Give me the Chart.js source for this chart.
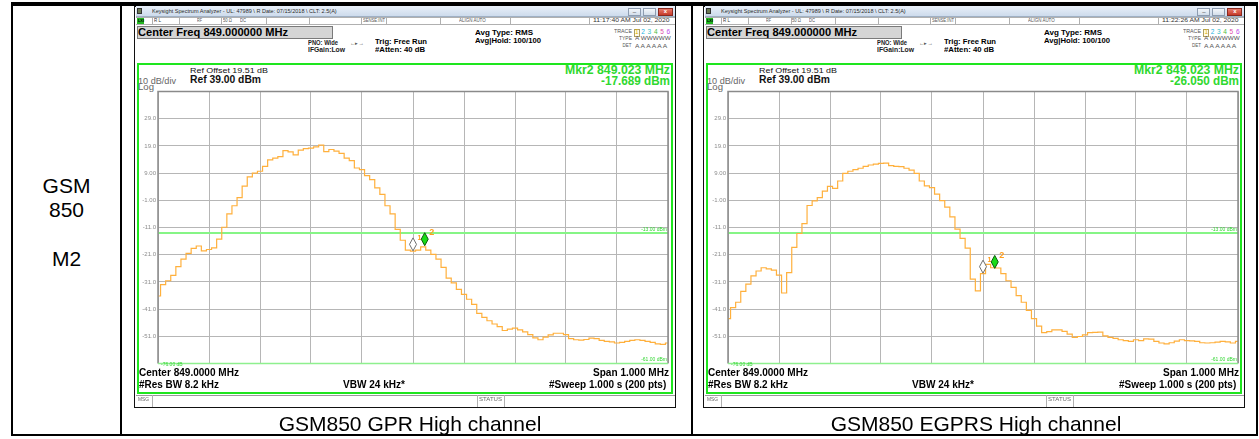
<!DOCTYPE html>
<html>
<head>
<meta charset="utf-8">
<script src="https://cdn.jsdelivr.net/npm/chart.js@4.4.1/dist/chart.umd.min.js"></script>
<style>
  body { margin: 0; width: 1259px; height: 439px; overflow: hidden; position: relative; background: #fff;
         font-family: "Liberation Sans", Arial, sans-serif; }
  .r { position: absolute; box-sizing: border-box; }
  .t { position: absolute; white-space: nowrap; transform-origin: 0 50%; }
  canvas { position: absolute; }
</style>
</head>
<body>
<script>
// sweep points (MHz), 848.5 .. 849.5
const freqMHz = [
  848.50, 848.51, 848.52, 848.53, 848.54, 848.55, 848.56, 848.57, 848.58, 848.59,
  848.60, 848.61, 848.62, 848.63, 848.64, 848.65, 848.66, 848.67, 848.68, 848.69,
  848.70, 848.71, 848.72, 848.73, 848.74, 848.75, 848.76, 848.77, 848.78, 848.79,
  848.80, 848.81, 848.82, 848.83, 848.84, 848.85, 848.86, 848.87, 848.88, 848.89,
  848.90, 848.91, 848.92, 848.93, 848.94, 848.95, 848.96, 848.97, 848.98, 848.99,
  849.00, 849.01, 849.02, 849.03, 849.04, 849.05, 849.06, 849.07, 849.08, 849.09,
  849.10, 849.11, 849.12, 849.13, 849.14, 849.15, 849.16, 849.17, 849.18, 849.19,
  849.20, 849.21, 849.22, 849.23, 849.24, 849.25, 849.26, 849.27, 849.28, 849.29,
  849.30, 849.31, 849.32, 849.33, 849.34, 849.35, 849.36, 849.37, 849.38, 849.39,
  849.40, 849.41, 849.42, 849.43, 849.44, 849.45, 849.46, 849.47, 849.48, 849.49,
  849.50
];

// trace levels (dBm), GPRS high channel
const gprsTrace = [
  -36.2, -32.0, -30.6, -28.6, -25.4, -22.6, -20.5, -18.7, -17.8, -19.6,
  -19.1, -18.5, -15.3, -10.9, -6.0, -3.0, 0.0, 4.2, 7.6, 9.0,
  9.7, 11.5, 13.9, 14.5, 15.1, 17.3, 16.8, 15.7, 17.5, 18.0,
  18.2, 18.7, 19.3, 16.9, 17.7, 17.1, 16.3, 14.5, 13.6, 10.9,
  10.3, 8.1, 6.6, 3.6, 1.2, -3.0, -6.0, -11.7, -15.7, -19.3,
  -19.7, -19.3, -18.1, -19.3, -20.9, -22.6, -25.7, -29.6, -31.4, -33.8,
  -35.6, -37.4, -39.3, -42.6, -44.1, -45.3, -46.5, -47.5, -48.9, -48.4,
  -48.0, -48.7, -49.4, -50.4, -51.6, -52.3, -51.3, -50.5, -49.9, -49.9,
  -50.4, -51.9, -52.3, -52.4, -52.2, -51.7, -51.9, -52.5, -52.9, -53.1,
  -53.5, -53.3, -52.9, -52.5, -52.3, -52.5, -52.9, -53.3, -53.8, -54.0,
  -53.5
];

// trace levels (dBm), EGPRS high channel
const egprsTrace = [
  -44.5, -40.5, -38.5, -34.5, -31.8, -28.8, -27.0, -25.8, -26.2, -26.7,
  -28.5, -35.1, -27.6, -18.3, -13.2, -9.6, -2.9, -1.2, 0.0, 2.4,
  4.1, 3.4, 6.1, 8.9, 9.7, 10.3, 10.8, 11.5, 12.0, 12.3,
  12.6, 12.7, 11.8, 11.5, 11.4, 10.8, 10.1, 8.9, 6.1, 4.3,
  3.7, 1.3, -1.1, -3.5, -7.1, -11.6, -15.0, -18.6, -30.0, -34.3,
  -28.0, -24.6, -25.8, -25.9, -28.0, -30.6, -33.0, -36.1, -38.5, -41.5,
  -44.5, -47.3, -49.7, -49.3, -48.7, -48.7, -49.2, -50.2, -51.4, -51.1,
  -50.5, -49.7, -49.6, -49.5, -50.9, -51.4, -51.8, -52.3, -52.6, -52.9,
  -52.3, -52.6, -52.0, -52.1, -52.9, -53.5, -53.8, -53.4, -52.8, -52.3,
  -52.6, -52.7, -52.9, -53.4, -53.5, -53.4, -53.2, -52.9, -53.1, -53.5,
  -52.9
];

// markers 1 and 2
const markerFreqs = [849.000, 849.023];
const gprsMarkerLevels = [-19.6, -17.689];
const egprsMarkerLevels = [-27.8, -26.050];

const displayLineDbm = -13;
const xTicks = [848.5, 848.6, 848.7, 848.8, 848.9, 849.0, 849.1, 849.2, 849.3, 849.4, 849.5];
const yTicks = [39, 29, 19, 9, -1, -11, -21, -31, -41, -51, -61];
const yTickLabels = ["", "29.0", "19.0", "9.00", "-1.00", "-11.0", "-21.0", "-31.0", "-41.0", "-51.0", ""];

const FONT = '"Liberation Sans", Arial, sans-serif';
Chart.defaults.font.family = FONT;

const PLOT_TOP = 89, PLOT_H = 277, PLOT_W = 510, AXIS_W = 24, PAD = 3;

// ---- little DOM helpers ----
const mctx = document.createElement("canvas").getContext("2d");

function rect(x, y, w, h, css) {
  const d = document.createElement("div");
  d.className = "r";
  d.style.cssText += `left:${x}px;top:${y}px;width:${w}px;height:${h}px;` + (css || "");
  document.body.appendChild(d);
  return d;
}

function txt(s, x, y, o) {
  o = o || {};
  const size = o.size || 7;
  const font = (o.bold ? "bold " : "") + size + "px " + FONT;
  const el = document.createElement("div");
  el.className = "t";
  el.textContent = s;
  el.style.font = font;
  el.style.lineHeight = size + "px";
  el.style.color = o.color || "#000";
  mctx.font = font;
  const w = mctx.measureText(s).width;
  const sx = o.w ? o.w / w : 1;
  let left = x;
  if (o.align === "right") left = x - w * sx;
  if (o.align === "center") left = x - (w * sx) / 2;
  el.style.left = left + "px";
  el.style.top = (y - size / 2) + "px";
  if (sx !== 1) el.style.transform = "scaleX(" + sx + ")";
  document.body.appendChild(el);
  return el;
}

// ---- table ----
rect(11, 2, 1247, 4, "background:#000");
rect(11, 433.5, 1247, 2.5, "background:#000");
rect(11, 2, 2, 434, "background:#000");
rect(120, 2, 2, 434, "background:#000");
rect(690.5, 2, 2, 434, "background:#000");
rect(1256, 2, 2, 434, "background:#000");

txt("GSM", 66.5, 185, { size: 21, align: "center" });
txt("850", 66.5, 209.5, { size: 21, align: "center" });
txt("M2", 66.5, 258.5, { size: 21, align: "center" });

// ---- one analyzer screenshot ----
function spectrumPlugin(levels) {
  return {
    id: "saOverlay",
    afterDatasetsDraw(chart) {
      const { ctx, chartArea: a, scales } = chart;
      const xs = scales.x, ys = scales.y;
      ctx.save();
      ctx.strokeStyle = "#8a8a8a";
      ctx.lineWidth = 1.5;
      ctx.beginPath();
      ctx.moveTo(a.left, a.bottom);
      ctx.lineTo(a.left, a.top);
      ctx.lineTo(a.right, a.top);
      ctx.lineTo(a.right, a.bottom);
      ctx.stroke();
      ctx.strokeStyle = "#8ef08e";
      ctx.beginPath();
      ctx.moveTo(a.left, a.bottom);
      ctx.lineTo(a.right, a.bottom);
      ctx.stroke();

      ctx.fillStyle = "#33d633";
      ctx.font = "5px " + FONT;
      ctx.textAlign = "right";
      ctx.textBaseline = "alphabetic";
      ctx.fillText("-13.00 dBm", a.right - 1, ys.getPixelForValue(displayLineDbm) - 2);
      ctx.fillText("-61.00 dBm", a.right - 1, a.bottom - 2);
      ctx.textAlign = "left";
      ctx.fillText("-76.00 dB", a.left + 3, a.bottom + 2.5);

      markerFreqs.forEach((f, i) => {
        const px = xs.getPixelForValue(f);
        const py = ys.getPixelForValue(levels[i]);
        const cy = py - 6.5;
        ctx.beginPath();
        ctx.moveTo(px, py);
        ctx.lineTo(px + 3.5, cy);
        ctx.lineTo(px, cy - 6.5);
        ctx.lineTo(px - 3.5, cy);
        ctx.closePath();
        ctx.fillStyle = i ? "#17dc17" : "#ffffff";
        ctx.fill();
        ctx.lineWidth = 1;
        ctx.strokeStyle = i ? "#0b5a0b" : "#707070";
        ctx.stroke();
        ctx.fillStyle = "#ff9d1c";
        ctx.font = (i ? "bold 9px " : "bold 7px ") + FONT;
        ctx.textBaseline = "middle";
        ctx.fillText(String(i + 1), px + 4.5, cy - 6.5);
      });
      ctx.restore();
    }
  };
}

function makeChart(plotL, trace, levels) {
  const cv = document.createElement("canvas");
  cv.width = AXIS_W + PLOT_W + PAD;
  cv.height = PLOT_H + 2 * PAD;
  cv.style.left = (plotL - AXIS_W) + "px";
  cv.style.top = (PLOT_TOP - PAD) + "px";
  cv.style.width = cv.width + "px";
  cv.style.height = cv.height + "px";
  document.body.appendChild(cv);

  new Chart(cv, {
    type: "line",
    data: {
      datasets: [
        {
          data: freqMHz.map((f, i) => ({ x: f, y: trace[i] })),
          borderColor: "rgb(255,176,60)",
          borderWidth: 1.2,
          stepped: "middle",
          pointRadius: 0,
          order: 1
        },
        {
          data: [
            { x: freqMHz[0], y: displayLineDbm },
            { x: freqMHz[freqMHz.length - 1], y: displayLineDbm }
          ],
          borderColor: "#86f586",
          borderWidth: 2,
          pointRadius: 0,
          order: 2
        }
      ]
    },
    options: {
      responsive: false,
      animation: false,
      devicePixelRatio: 1,
      layout: { autoPadding: false, padding: { left: 0, top: PAD, right: PAD, bottom: PAD } },
      plugins: { legend: { display: false }, tooltip: { enabled: false } },
      scales: {
        x: {
          type: "linear",
          min: 848.5,
          max: 849.5,
          afterBuildTicks: (s) => { s.ticks = xTicks.map((v) => ({ value: v })); },
          afterFit: (s) => { s.height = 0; },
          ticks: { display: false },
          grid: { color: "#b6b6b6", drawTicks: false },
          border: { display: false }
        },
        y: {
          min: -61,
          max: 39,
          afterBuildTicks: (s) => { s.ticks = yTicks.map((v) => ({ value: v })); },
          afterFit: (s) => { s.width = AXIS_W; },
          ticks: {
            autoSkip: false,
            padding: 2,
            color: "#8c8c8c",
            font: { size: 6 },
            callback: (v, i) => yTickLabels[i]
          },
          grid: { color: "#b6b6b6", drawTicks: false },
          border: { display: false }
        }
      }
    },
    plugins: [spectrumPlugin(levels)]
  });
}

function panel(bx, time, mkrLevelText, trace, levels) {
  const W = 542;
  rect(bx, 5.5, W, 402, "border:1.5px solid #111;background:#fff");
  // title bar
  rect(bx + 1.5, 6, W - 3, 10.5, "background:linear-gradient(#e9f0f9,#cddbec);border-bottom:1px solid #9fb0c4");
  rect(bx + 3, 8, 5, 6, "background:#6b7a55;border:1px solid #333");
  txt("Keysight Spectrum Analyzer - UL: 47989 \\ R Date: 07/15/2018 \\ CLT: 2.5(A)", bx + 18, 11.5,
      { size: 5.5, color: "#2a2a2a", w: 185 });
  rect(bx + 494, 7.5, 13, 8, "background:linear-gradient(#f4f7fb,#d3deea);border:1px solid #8d9cb0");
  rect(bx + 509, 7.5, 13, 8, "background:linear-gradient(#f4f7fb,#d3deea);border:1px solid #8d9cb0");
  rect(bx + 524, 7.5, 15, 8, "background:linear-gradient(#ea7a6a,#c53a2a);border:1px solid #8a2a20");
  txt("\u2013", bx + 500.5, 11.5, { size: 6, color: "#333", align: "center" });
  txt("x", bx + 531.5, 11.3, { size: 6, bold: true, color: "#fff", align: "center" });

  // status row
  rect(bx + 1.5, 17, W - 3, 7.5, "border-top:1px solid #b0b0b0;border-bottom:1px solid #b0b0b0");
  [18, 45, 87.3, 131.7, 175, 226.7, 251.7, 306, 375.6, 455].forEach((sx) => rect(bx + sx, 17, 0.8, 7.5, "background:#b0b0b0"));
  rect(bx + 3, 18, 7, 5.5, "background:#22b822");
  txt("LXI", bx + 3.5, 20.8, { size: 4, bold: true, color: "#000", w: 6 });
  txt("R L", bx + 20, 20.8, { size: 5.5, color: "#333", w: 7 });
  txt("RF", bx + 62.7, 20.8, { size: 5.5, color: "#555", w: 5 });
  txt("50 \u03A9", bx + 89, 20.8, { size: 5.5, color: "#555", w: 9 });
  txt("DC", bx + 106, 20.8, { size: 5.5, color: "#555", w: 6 });
  txt("SENSE:INT", bx + 228.5, 20.8, { size: 5.5, color: "#555", w: 22 });
  txt("ALIGN AUTO", bx + 324.5, 20.8, { size: 5.5, color: "#555", w: 27 });
  txt(time, bx + 535.5, 20.8, { size: 5.5, color: "#333", w: 77, align: "right" });

  // settings block
  rect(bx + 3, 26, 196, 12.5, "background:#d5d5d5;border:1px solid #7a7a7a");
  txt("Center Freq 849.000000 MHz", bx + 4, 32.4, { size: 11, bold: true, w: 150 });
  txt("PNO: Wide", bx + 174, 43.5, { size: 6.5, bold: true, color: "#222", w: 30 });
  txt("IFGain:Low", bx + 174, 50, { size: 6.5, bold: true, color: "#222", w: 37 });
  txt("\u2190\u25B8\u2192", bx + 216, 43.5, { size: 5, color: "#555", w: 14 });
  txt("Trig: Free Run", bx + 241, 41.5, { size: 7.6, bold: true, w: 52 });
  txt("#Atten: 40 dB", bx + 241, 49.5, { size: 7.6, bold: true, w: 50 });
  txt("Avg Type: RMS", bx + 341, 32.5, { size: 7.8, bold: true, w: 58 });
  txt("Avg|Hold: 100/100", bx + 341, 41, { size: 7.8, bold: true, w: 66 });

  txt("TRACE", bx + 497.5, 32.5, { size: 4.5, color: "#555", align: "right", w: 18 });
  txt("TYPE", bx + 497.5, 39.2, { size: 4.5, color: "#555", align: "right", w: 13 });
  txt("DET", bx + 497.5, 46.5, { size: 4.5, color: "#555", align: "right", w: 9 });
  rect(bx + 499.5, 28.5, 6, 8, "border:1px solid #b0a060;background:#fffbe8");
  const traceColors = ["#d9b300", "#22b5e6", "#2fc0c8", "#4cbc3c", "#e04ca8", "#b848e8"];
  ["1", "2", "3", "4", "5", "6"].forEach((d, i) =>
    txt(d, bx + 501 + i * 6.3, 32.5, { size: 6.5, color: traceColors[i] }));
  txt("A WWWWW", bx + 500.5, 39.2, { size: 5.5, color: "#555", w: 36 });
  txt("A A A A A A", bx + 500.5, 46.5, { size: 5.5, color: "#555", w: 36 });

  // display window
  rect(bx + 2.5, 63, 536.5, 330.5, "border:2px solid #1ee61e");
  txt("Ref Offset 19.51 dB", bx + 56, 70.5, { size: 8, color: "#111", w: 78 });
  txt("Ref 39.00 dBm", bx + 56, 80, { size: 10, bold: true, color: "#111", w: 71 });
  txt("10 dB/div", bx + 3.5, 81, { size: 8.5, color: "#666", w: 38 });
  txt("Log", bx + 3.5, 87.3, { size: 8.5, color: "#666", w: 16 });
  txt("Mkr2 849.023 MHz", bx + 535.5, 70, { size: 12, bold: true, color: "#2fd82f", align: "right", w: 105 });
  txt(mkrLevelText, bx + 535.5, 80.5, { size: 12, bold: true, color: "#2fd82f", align: "right", w: 69 });

  makeChart(bx + 24.3, trace, levels);

  txt("Center 849.0000 MHz", bx + 5, 373, { size: 10, bold: true, w: 100 });
  txt("Span 1.000 MHz", bx + 535.3, 373, { size: 10, bold: true, align: "right", w: 76 });
  txt("#Res BW 8.2 kHz", bx + 5, 384.5, { size: 10, bold: true, w: 80 });
  txt("VBW 24 kHz*", bx + 209, 384.5, { size: 10, bold: true, w: 62 });
  txt("#Sweep  1.000 s (200 pts)", bx + 535.3, 384.5, { size: 10, bold: true, align: "right", w: 120 });

  // message bar
  rect(bx + 1.5, 394.5, W - 3, 12, "border-top:1px solid #999");
  [18, 342.5, 370].forEach((sx) => rect(bx + sx, 394.5, 0.8, 12, "background:#b0b0b0"));
  txt("MSG", bx + 4, 400, { size: 4.5, color: "#666", w: 11 });
  txt("STATUS", bx + 344.5, 400, { size: 4.5, color: "#666", w: 23 });
}

panel(134, "11:17:40 AM Jul 02, 2020", "-17.689 dBm", gprsTrace, gprsMarkerLevels);
panel(703.4, "11:22:26 AM Jul 02, 2020", "-26.050 dBm", egprsTrace, egprsMarkerLevels);

txt("GSM850 GPR High channel", 410, 423, { size: 21, align: "center" });
txt("GSM850 EGPRS High channel", 976, 423, { size: 21, align: "center" });
</script>
</body>
</html>
